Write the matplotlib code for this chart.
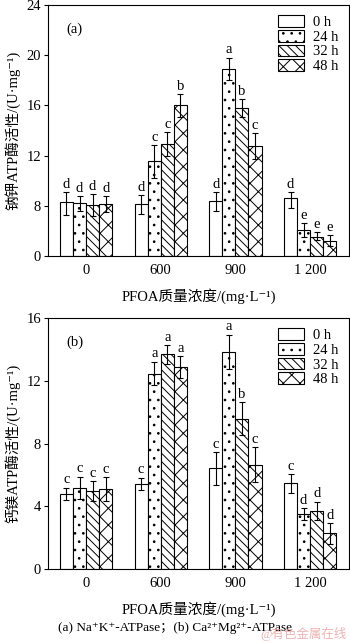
import numpy as np
import matplotlib
matplotlib.use('Agg')
import matplotlib.pyplot as plt

plt.rcParams['font.family'] = ['Liberation Serif', 'Noto Sans CJK SC', 'DejaVu Sans']
plt.rcParams['hatch.linewidth'] = 0.7

groups = ['0', '600', '900', '1 200']
times = ['0 h', '24 h', '32 h', '48 h']
hatches = ['', '..', '\\\\\\\\', 'xx']

# (a) Na+K+-ATPase
na_vals = [[8.27, 8.14, 8.4, 8.65],
           [8.2, 11.54, 18.9, 4.2],
           [8.05, 12.9, 15.8, 3.0],
           [8.14, 16.0, 12.75, 2.35]]
na_err_hi = [[0.8, 0.72, 0.7, 0.45],
             [0.55, 1.3, 0.9, 1.0],
             [0.85, 0.97, 0.7, 0.8],
             [0.6, 0.9, 1.05, 0.95]]
na_err_lo = [[1.67, 1.44, 1.2, 0.95],
             [1.0, 1.3, 0.9, 1.2],
             [1.65, 0.97, 0.7, 0.5],
             [1.08, 0.9, 1.05, 0.75]]
na_sig = [['d', 'd', 'd', 'd'],
          ['d', 'c', 'a', 'e'],
          ['d', 'c', 'b', 'e'],
          ['d', 'b', 'c', 'e']]

# (b) Ca2+Mg2+-ATPase
ca_vals = [[4.78, 5.42, 6.42, 5.46],
           [5.2, 12.47, 13.85, 3.5],
           [4.97, 13.7, 9.6, 3.72],
           [5.1, 12.9, 6.67, 2.27]]
ca_err = [[0.4, 0.4, 1.05, 0.6],
          [0.7, 0.75, 1.1, 0.4],
          [0.65, 0.6, 1.05, 0.57],
          [0.75, 0.7, 1.1, 0.65]]
ca_sig = [['c', 'c', 'c', 'c'],
          ['c', 'a', 'a', 'd'],
          ['c', 'a', 'b', 'd'],
          ['c', 'a', 'c', 'd']]


def fwd(y):
    y = np.asarray(y, dtype=float)
    return np.where(y < 8, y * 0.5, y - 4)


def inv(y):
    y = np.asarray(y, dtype=float)
    return np.where(y < 4, y * 2, y + 4)


fig = plt.figure(figsize=(3.5, 6.43), dpi=100)
ax1 = fig.add_axes([0.137, 0.602, 0.86, 0.390])
ax2 = fig.add_axes([0.137, 0.115, 0.86, 0.390])

x = np.arange(1, 5)
w = 0.175
fs = 10.5


def draw(ax, vals, lo, hi, sig):
    for i in range(4):
        xs = x + (i - 1.5) * w
        ax.bar(xs, vals[i], w, color='white', edgecolor='black',
               hatch=hatches[i], linewidth=0.8, label=times[i])
        ax.errorbar(xs, vals[i], yerr=[lo[i], hi[i]], fmt='none',
                    ecolor='black', elinewidth=0.8, capsize=2.2, capthick=0.8)
        for xx, v, e, s in zip(xs, vals[i], hi[i], sig[i]):
            ax.annotate(s, (xx, v + e), xytext=(0, 1), textcoords='offset points',
                        ha='center', va='bottom', fontsize=fs)
    ax.set_xlim(0.49, 4.52)
    ax.set_xticks(x)
    ax.set_xticklabels(groups, fontsize=fs)
    ax.tick_params(axis='x', length=0, pad=6)
    ax.tick_params(axis='y', direction='out', length=3, width=0.8, labelsize=fs, pad=2)
    for sp in ax.spines.values():
        sp.set_linewidth(0.8)
    ax.set_xlabel('PFOA质量浓度/(mg·L⁻¹)', fontsize=fs, labelpad=8)
    ax.legend(loc='upper right', frameon=False, fontsize=fs,
              handlelength=1.8, handleheight=0.85, labelspacing=0.05,
              handletextpad=0.6, borderaxespad=0.3)


draw(ax1, na_vals, na_err_lo, na_err_hi, na_sig)
ax1.set_yscale('function', functions=(fwd, inv))
ax1.set_ylim(0, 24)
ax1.set_yticks([0, 8, 12, 16, 20, 24])
ax1.set_ylabel('钠钾ATP酶活性/(U·mg⁻¹)', fontsize=fs, labelpad=4)
ax1.text(0.06, 0.93, '(a)', transform=ax1.transAxes, fontsize=fs, va='top')

draw(ax2, ca_vals, ca_err, ca_err, ca_sig)
ax2.set_ylim(0, 16)
ax2.set_yticks([0, 4, 8, 12, 16])
ax2.set_ylabel('钙镁ATP酶活性/(U·mg⁻¹)', fontsize=fs, labelpad=4)
ax2.text(0.06, 0.93, '(b)', transform=ax2.transAxes, fontsize=fs, va='top')

fig.text(0.5, 0.023, '(a) Na⁺K⁺-ATPase；(b) Ca²⁺Mg²⁺-ATPase',
         ha='center', va='center', fontsize=9.5)
fig.text(0.99, 0.003, '@有色金属在线', ha='right', va='bottom', fontsize=9,
         color='#e8a0a0', alpha=0.8)

fig.savefig('out.png', dpi=100)
